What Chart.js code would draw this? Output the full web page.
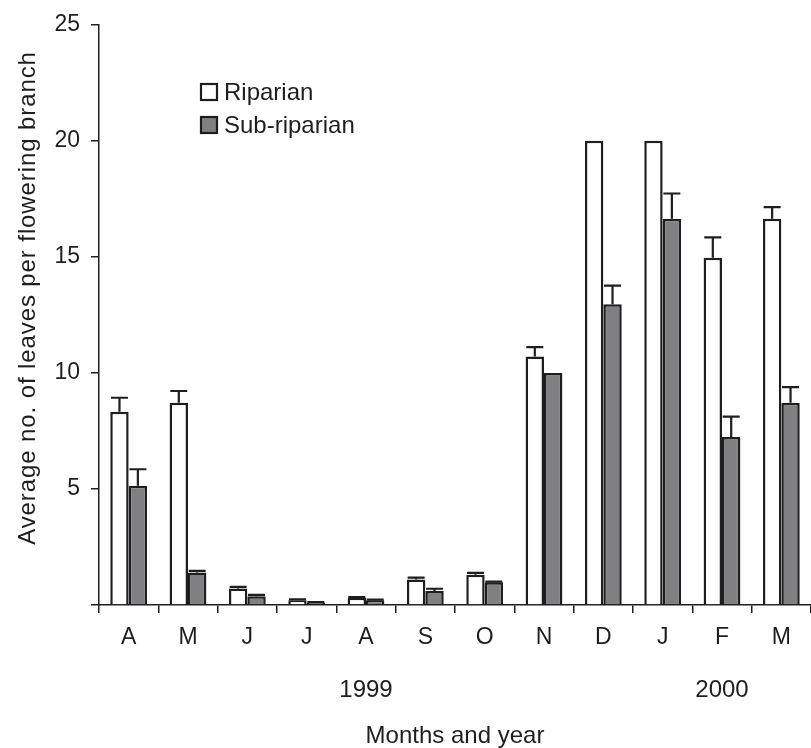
<!DOCTYPE html>
<html><head><meta charset="utf-8">
<script src="https://cdn.jsdelivr.net/npm/chart.js@4.4.0/dist/chart.umd.min.js"></script>
<style>html,body{margin:0;padding:0;background:#fff}#wrap{width:811px;height:748px}</style>
</head><body><div id="wrap"><canvas id="c" width="811" height="748"></canvas></div>
<script>
const months = ['A','M','J','J','A','S','O','N','D','J','F','M'];
const riparian = [8.33, 8.72, 0.71, 0.21, 0.31, 1.1, 1.3, 10.71, 20, 20, 14.96, 16.64];
const riparianErr = [0.6, 0.5, 0.07, 0.03, 0.03, 0.08, 0.08, 0.4, 0, 0, 0.88, 0.5];
const subRiparian = [5.14, 1.4, 0.38, 0.1, 0.21, 0.6, 0.98, 10.0, 12.96, 16.64, 7.24, 8.72];
const subRiparianErr = [0.71, 0.07, 0.06, 0.02, 0.02, 0.1, 0.03, 0, 0.8, 1.09, 0.88, 0.67];
const yTicks = [0, 5, 10, 15, 20, 25];
const yearLabels = ['1999', '2000'];
const yearAtCategory = [4, 10];
const seriesNames = ['Riparian', 'Sub-riparian'];
const seriesFills = ['#ffffff', '#808083'];

const FONT = '"Liberation Sans", Arial, Helvetica, sans-serif';
const INK = '#1e1e1e';

const errorBars = {
  id: 'errorBars',
  afterDatasetsDraw(chart) {
    const ctx = chart.ctx, y = chart.scales.y;
    const errs = [riparianErr, subRiparianErr];
    ctx.save();
    ctx.strokeStyle = INK; ctx.lineWidth = 2.2;
    chart.data.datasets.forEach((ds, di) => {
      const meta = chart.getDatasetMeta(di);
      meta.data.forEach((bar, i) => {
        const e = errs[di][i];
        if (!e) return;
        const top = y.getPixelForValue(ds.data[i] + e);
        ctx.beginPath();
        ctx.moveTo(bar.x, bar.y); ctx.lineTo(bar.x, top);
        ctx.moveTo(bar.x - 8.5, top); ctx.lineTo(bar.x + 8.5, top);
        ctx.stroke();
      });
    });
    ctx.restore();
  }
};

const extraText = {
  id: 'extraText',
  afterDraw(chart) {
    const ctx = chart.ctx, x = chart.scales.x;
    ctx.save();
    ctx.fillStyle = INK;
    ctx.font = '24px ' + FONT;
    ctx.textAlign = 'center'; ctx.textBaseline = 'middle';
    yearLabels.forEach((t, i) => ctx.fillText(t, x.getPixelForValue(yearAtCategory[i]), 690));
    // legend
    ctx.textAlign = 'left';
    seriesNames.forEach((n, i) => {
      const by = 84 + i * 33;
      ctx.fillStyle = seriesFills[i];
      ctx.fillRect(201, by, 16, 16);
      ctx.strokeStyle = INK; ctx.lineWidth = 2.2;
      ctx.strokeRect(201, by, 16, 16);
      ctx.fillStyle = INK;
      ctx.fillText(n, 224, by + 9);
    });
    // y title
    ctx.translate(28, 298);
    ctx.rotate(-Math.PI / 2);
    ctx.textAlign = 'center';
    ctx.letterSpacing = '0.9px';
    ctx.fillText('Average no. of leaves per flowering branch', 0, 0);
    ctx.restore();
  }
};

new Chart(document.getElementById('c'), {
  type: 'bar',
  data: {
    labels: months,
    datasets: [
      { label: seriesNames[0], data: riparian, backgroundColor: seriesFills[0], borderColor: INK, borderWidth: 2.5,
        categoryPercentage: 0.62, barPercentage: 1.0 },
      { label: seriesNames[1], data: subRiparian, backgroundColor: seriesFills[1], borderColor: INK, borderWidth: 2.5,
        categoryPercentage: 0.62, barPercentage: 1.0 }
    ]
  },
  options: {
    responsive: false,
    animation: false,
    devicePixelRatio: 1,
    layout: { padding: { top: 20, left: 0, right: 0, bottom: 0 } },
    plugins: { legend: { display: false }, tooltip: { enabled: false } },
    scales: {
      x: {
        grid: { drawOnChartArea: false, drawTicks: true, tickLength: 8, color: INK, lineWidth: 1.5, offset: true },
        border: { display: true, color: INK, width: 1.5 },
        ticks: { color: INK, font: { family: FONT, size: 23 }, padding: 11, maxRotation: 0, autoSkip: false },
        title: { display: true, text: 'Months and year', color: INK, font: { family: FONT, size: 24, lineHeight: 1 }, padding: 0 },
        afterFit(s) { s.height = 143; }
      },
      y: {
        min: 0, max: 25,
        afterBuildTicks(s) { s.ticks = yTicks.map(v => ({ value: v })); },
        grid: { drawOnChartArea: false, drawTicks: true, tickLength: 8, color: INK, lineWidth: 1.5 },
        border: { display: true, color: INK, width: 1.5 },
        ticks: { color: INK, font: { family: FONT, size: 23 }, padding: 11,
          callback: (v) => v === 0 ? '' : String(v) },
        afterFit(s) { s.width = 99; }
      }
    }
  },
  plugins: [errorBars, extraText]
});
</script>
</body></html>
